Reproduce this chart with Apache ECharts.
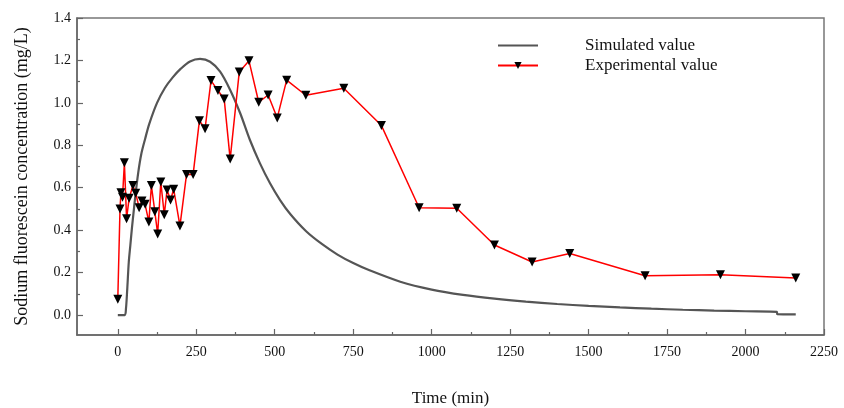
<!DOCTYPE html>
<html>
<head>
<meta charset="utf-8">
<script src="https://cdn.jsdelivr.net/npm/echarts@6/dist/echarts.min.js"></script>
<style>html,body{margin:0;padding:0;background:#fff}#c{width:844px;height:408px}</style>
</head>
<body>
<div id="c"></div>
<script>
const simTime  = [0, 22, 26, 30, 35, 40, 45, 50, 55, 65, 75, 87, 100, 125, 150, 175, 200, 230, 262, 294, 326, 358, 390, 421, 453, 485, 517, 550, 600, 650, 700, 750, 800, 900, 1000, 1100, 1200, 1300, 1400, 1500, 1600, 1700, 1800, 1900, 2000, 2100, 2101, 2160];
const simValue = [0, 0, 0.03, 0.12, 0.25, 0.33, 0.41, 0.48, 0.55, 0.67, 0.76, 0.83, 0.90, 1.0, 1.07, 1.12, 1.16, 1.195, 1.207, 1.194, 1.147, 1.061, 0.951, 0.825, 0.715, 0.621, 0.542, 0.475, 0.395, 0.335, 0.285, 0.245, 0.212, 0.157, 0.12, 0.095, 0.077, 0.063, 0.052, 0.043, 0.036, 0.030, 0.025, 0.021, 0.018, 0.015, 0.004, 0.003];
const expTime  = [0, 7, 10, 15, 21, 28, 36, 48, 57, 68, 77, 87, 99, 107, 118, 127, 137, 148, 157, 168, 178, 198, 219, 240, 260, 278, 297, 319, 339, 358, 387, 418, 449, 479, 508, 538, 599, 720, 840, 960, 1080, 1200, 1320, 1440, 1680, 1920, 2160];
const expValue = [0.075, 0.50, 0.577, 0.555, 0.718, 0.454, 0.55, 0.61, 0.574, 0.506, 0.537, 0.522, 0.438, 0.61, 0.487, 0.382, 0.627, 0.473, 0.589, 0.542, 0.593, 0.42, 0.663, 0.663, 0.916, 0.878, 1.105, 1.058, 1.018, 0.735, 1.146, 1.198, 1.003, 1.037, 0.929, 1.107, 1.036, 1.069, 0.893, 0.506, 0.503, 0.33, 0.25, 0.29, 0.185, 0.19, 0.175];
const xTicks = [0, 250, 500, 750, 1000, 1250, 1500, 1750, 2000, 2250];
const xMinorTicks = [125, 375, 625, 875, 1125, 1375, 1625, 1875, 2125];
const yTicks = [0, 0.2, 0.4, 0.6, 0.8, 1.0, 1.2, 1.4];
const yMinorTicks = [0.1, 0.3, 0.5, 0.7, 0.9, 1.1, 1.3];

const serif = 'Liberation Serif';
const axisColor = '#666';
const chart = echarts.init(document.getElementById('c'));
const xBase = {type:'value', min:-130, max:2250, gridIndex:0, splitLine:{show:false}};
const yBase = {type:'value', min:-0.094, max:1.4, gridIndex:0, splitLine:{show:false}};
chart.setOption({
  animation:false,
  grid:{left:77, right:20, top:18, bottom:73, containLabel:false, outerBoundsMode:'none', show:true, borderColor:'#777', borderWidth:1.5, backgroundColor:'transparent'},
  legend:{
    orient:'vertical', left:497, top:37, padding:0, itemWidth:40, itemHeight:9, itemGap:3,
    textStyle:{fontFamily:serif, fontSize:17, lineHeight:17, color:'#111', padding:[0,0,0,42]},
    data:[
      {name:'Simulated value', itemStyle:{opacity:0}},
      {name:'Experimental value'}
    ]
  },
  xAxis:[
    Object.assign({}, xBase, {
      name:'Time (min)', nameLocation:'middle', nameGap:55,
      nameTextStyle:{fontFamily:serif, fontSize:17, color:'#111'},
      axisLine:{show:true, onZero:false, lineStyle:{color:axisColor, width:1.5}},
      axisTick:{show:true, inside:true, length:6, customValues:xTicks, lineStyle:{color:axisColor, width:1.2}},
      axisLabel:{customValues:xTicks, fontFamily:serif, fontSize:14, color:'#111', margin:10, formatter:v=>String(v)}
    }),
    Object.assign({}, xBase, {
      axisLine:{show:false, onZero:false},
      axisTick:{show:true, inside:true, length:3, customValues:xMinorTicks, lineStyle:{color:axisColor, width:1.2}},
      axisLabel:{show:false}, position:'bottom'
    })
  ],
  yAxis:[
    Object.assign({}, yBase, {
      name:'Sodium fluorescein concentration (mg/L)', nameLocation:'middle', nameGap:46,
      nameTextStyle:{fontFamily:serif, fontSize:18, color:'#111'},
      axisLine:{show:true, onZero:false, lineStyle:{color:axisColor, width:1.5}},
      axisTick:{show:true, inside:true, length:6, customValues:yTicks, lineStyle:{color:axisColor, width:1.2}},
      axisLabel:{customValues:yTicks, fontFamily:serif, fontSize:14, color:'#111', margin:6, formatter:v=>v.toFixed(1)}
    }),
    Object.assign({}, yBase, {
      axisLine:{show:false, onZero:false},
      axisTick:{show:true, inside:true, length:3, customValues:yMinorTicks, lineStyle:{color:axisColor, width:1.2}},
      axisLabel:{show:false}, position:'left'
    })
  ],
  series:[
    {name:'Simulated value', type:'line', symbol:'none', smooth:0.3,
     data:simTime.map((t,i)=>[t, simValue[i]]),
     lineStyle:{color:'#555', width:2.2}, itemStyle:{color:'#555'}},
    {name:'Experimental value', type:'line', symbol:'triangle', symbolRotate:180, symbolSize:9,
     data:expTime.map((t,i)=>[t, expValue[i]]),
     lineStyle:{color:'#ff0000', width:1.5}, itemStyle:{color:'#000'}}
  ]
});
</script>
</body>
</html>
